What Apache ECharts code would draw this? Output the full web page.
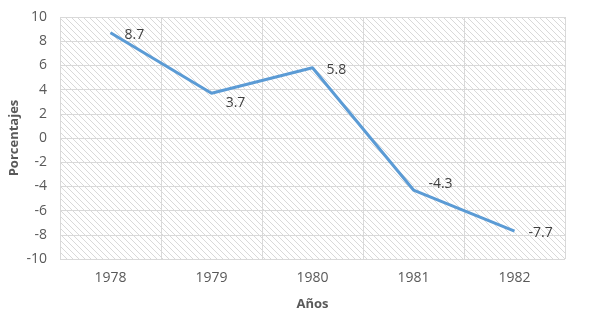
<!DOCTYPE html>
<html>
<head>
<meta charset="utf-8">
<script src="https://cdn.jsdelivr.net/npm/echarts@6/dist/echarts.min.js"></script>
<style>
  html, body { margin: 0; padding: 0; background: #fff; }
  #chart { width: 589px; height: 319px; }
</style>
</head>
<body>
<div id="chart"></div>
<script>
// data
const years = ['1978', '1979', '1980', '1981', '1982'];
const values = [8.7, 3.7, 5.8, -4.3, -7.7];
const labelPos = ['right', 'bottom', 'right', 'top', 'right'];

// diagonal hatch used as the plot background
const hatch = document.createElement('canvas');
hatch.width = 6;
hatch.height = 6;
const ctx = hatch.getContext('2d');
ctx.strokeStyle = '#d9d9d9';
ctx.lineWidth = 1;
ctx.beginPath();
ctx.moveTo(-1, -1); ctx.lineTo(7, 7);
ctx.moveTo(-1, 5); ctx.lineTo(1, 7);
ctx.moveTo(5, -1); ctx.lineTo(7, 1);
ctx.stroke();

const myChart = echarts.init(document.getElementById('chart'));

const labelOffsets = {
  right: [6, 2],
  bottom: [24, -5],
  top: [27, 9]
};

const option = {
  animation: false,
  textStyle: { fontFamily: '"Open Sans", sans-serif' },
  grid: {
    left: 60,
    right: 24,
    top: 17,
    bottom: 60,
    containLabel: false,
    outerBoundsMode: 'none',
    show: true,
    borderWidth: 0,
    backgroundColor: { image: hatch, repeat: 'repeat' }
  },
  xAxis: [
    {
      type: 'category',
      data: years,
      name: 'Años',
      nameLocation: 'middle',
      nameGap: 39,
      nameMoveOverlap: false,
      nameTextStyle: { fontWeight: 'bold', fontSize: 13, color: '#595959' },
      axisLine: { show: false },
      axisTick: { show: false },
      axisLabel: { color: '#595959', fontSize: 14, margin: 12 },
      splitLine: { show: true, lineStyle: { color: '#d9d9d9' } }
    },
    {
      type: 'value',
      min: 0,
      max: 5,
      interval: 0.5,
      show: false,
      splitLine: { show: true, lineStyle: { color: '#d9d9d9' } }
    }
  ],
  yAxis: {
    type: 'value',
    min: -10,
    max: 10,
    interval: 2,
    name: 'Porcentajes',
    nameLocation: 'middle',
    nameGap: 39,
    nameMoveOverlap: false,
    nameTextStyle: { fontWeight: 'bold', fontSize: 13, color: '#595959' },
    axisLine: { show: false },
    axisTick: { show: false },
    axisLabel: { color: '#595959', fontSize: 14, margin: 13 },
    splitLine: { lineStyle: { color: '#d9d9d9' } }
  },
  series: [
    {
      type: 'line',
      xAxisIndex: 0,
      data: values.map((v, i) => ({
        value: v,
        label: {
          position: labelPos[i],
          offset: labelOffsets[labelPos[i]]
        }
      })),
      symbol: 'circle',
      symbolSize: 0,
      showSymbol: true,
      lineStyle: { color: '#5b9bd5', width: 3 },
      label: {
        show: true,
        color: '#404040',
        fontSize: 14,
        distance: 8
      }
    }
  ]
};

myChart.setOption(option);
</script>
</body>
</html>
